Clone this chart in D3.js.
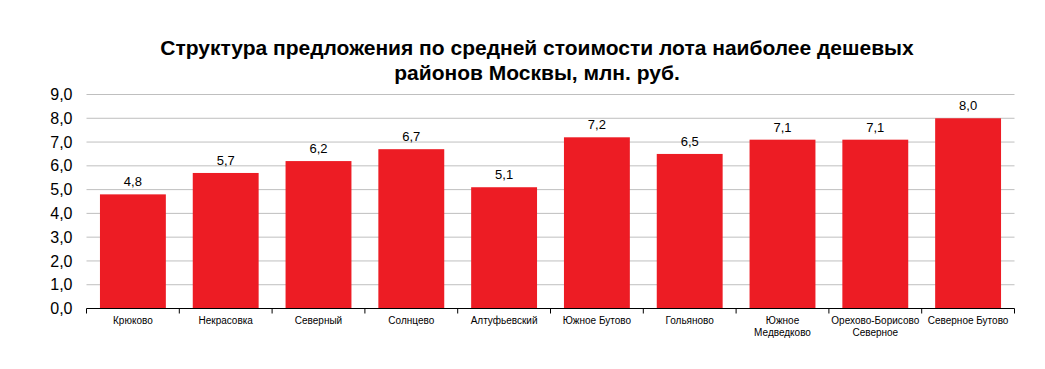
<!DOCTYPE html>
<html>
<head>
<meta charset="utf-8">
<script src="https://cdn.jsdelivr.net/npm/d3@7"></script>
<style>
  body { margin: 0; background: #fff; }
  svg { display: block; }
</style>
</head>
<body>
<svg id="chart"></svg>
<script>
const districts = ['Крюково', 'Некрасовка', 'Северный', 'Солнцево', 'Алтуфьевский',
  'Южное Бутово', 'Гольяново', 'Южное\nМедведково', 'Орехово-Борисово\nСеверное', 'Северное Бутово'];
const avgPrice = [4.8, 5.7, 6.2, 6.7, 5.1, 7.2, 6.5, 7.1, 7.1, 8.0];
const yTicks = [0, 1, 2, 3, 4, 5, 6, 7, 8, 9];
const titleLines = ['Структура предложения по средней стоимости лота наиболее дешевых', 'районов Москвы, млн. руб.'];

const W = 1045, H = 369;
const plotL = 86.5, plotR = 1014.5, plotT = 94.5, plotB = 308.5;

const fmt = v => d3.format('.1f')(v).replace('.', ',');

const svg = d3.select('#chart').attr('width', W).attr('height', H);

const x = d3.scaleBand().domain(districts).range([plotL, plotR]).paddingInner(0.29).paddingOuter(0.145);
const y = d3.scaleLinear().domain([0, 9]).range([plotB, plotT]);

// title
svg.append('text')
  .attr('x', 537).attr('y', 55)
  .attr('text-anchor', 'middle')
  .style('font-family', '"Liberation Sans", Arial, sans-serif')
  .style('font-weight', 'bold')
  .style('font-size', '21px')
  .selectAll('tspan')
  .data(titleLines)
  .enter().append('tspan')
  .attr('x', 537)
  .attr('dy', (d, i) => i ? 25 : 0)
  .text(d => d);

// gridlines
svg.append('g')
  .selectAll('line')
  .data(yTicks.slice(1))
  .enter().append('line')
  .attr('x1', plotL).attr('x2', plotR)
  .attr('y1', d => y(d)).attr('y2', d => y(d))
  .attr('stroke', '#bfbfbf').attr('stroke-width', 1);

// y labels
const yAxis = d3.axisLeft(y).tickValues(yTicks).tickFormat(fmt).tickSize(0).tickPadding(14);
svg.append('g')
  .attr('transform', `translate(${plotL},0)`)
  .call(yAxis)
  .call(g => g.select('.domain').remove())
  .selectAll('text')
  .style('font-family', '"Liberation Sans", Arial, sans-serif')
  .style('font-size', '16px')
  .attr('fill', '#000');

// bars
svg.append('g')
  .selectAll('rect')
  .data(avgPrice)
  .enter().append('rect')
  .attr('x', (d, i) => x(districts[i]))
  .attr('width', x.bandwidth())
  .attr('y', d => y(d))
  .attr('height', d => y(0) - y(d))
  .attr('fill', '#ed1c24');

// value labels
svg.append('g')
  .selectAll('text')
  .data(avgPrice)
  .enter().append('text')
  .attr('x', (d, i) => x(districts[i]) + x.bandwidth() / 2)
  .attr('y', d => y(d) - 8)
  .attr('text-anchor', 'middle')
  .style('font-family', '"Liberation Sans", Arial, sans-serif')
  .style('font-size', '13px')
  .text(fmt);

// x axis
const step = x.step();
const bl = svg.append('g');
bl.append('line')
  .attr('x1', plotL).attr('x2', plotR)
  .attr('y1', plotB).attr('y2', plotB)
  .attr('stroke', '#000').attr('stroke-width', 1);
bl.selectAll('line.tick')
  .data(d3.range(districts.length + 1))
  .enter().append('line')
  .attr('class', 'tick')
  .attr('x1', i => plotL + i * step).attr('x2', i => plotL + i * step)
  .attr('y1', plotB).attr('y2', plotB + 5)
  .attr('stroke', '#000');

bl.selectAll('text.lbl')
  .data(districts)
  .enter().append('text')
  .attr('class', 'lbl')
  .attr('text-anchor', 'middle')
  .style('font-family', '"Liberation Sans", Arial, sans-serif')
  .style('font-size', '10px')
  .each(function (d) {
    const t = d3.select(this);
    d.split('\n').forEach((line, k) => {
      t.append('tspan')
        .attr('x', x(d) + x.bandwidth() / 2)
        .attr('y', 324 + k * 12)
        .text(line);
    });
  });
</script>
</body>
</html>
